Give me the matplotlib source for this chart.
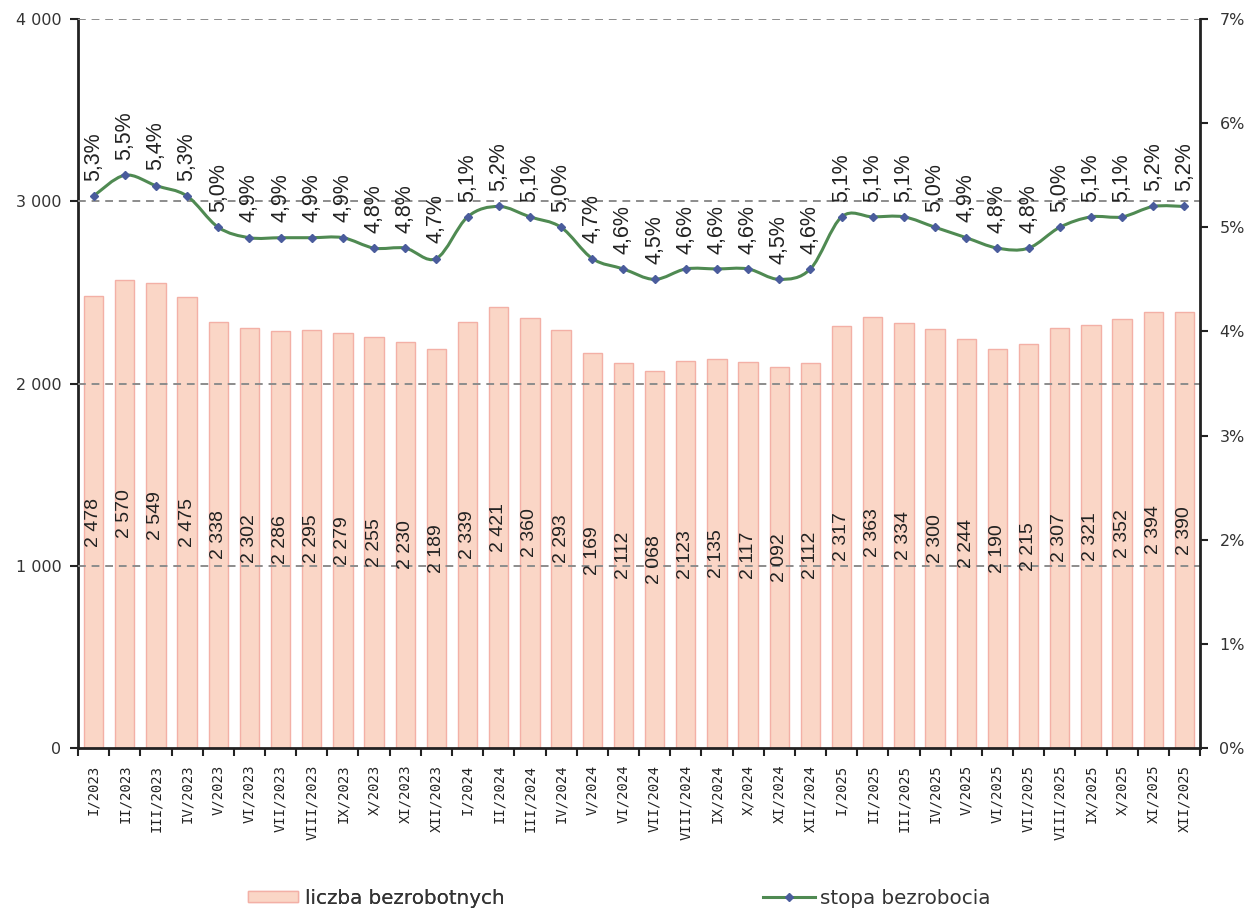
import numpy as np
import matplotlib
matplotlib.use("Agg")
import matplotlib.pyplot as plt
from matplotlib.path import Path
from matplotlib.patches import PathPatch, Patch
from matplotlib.lines import Line2D

months = ["I", "II", "III", "IV", "V", "VI", "VII", "VIII", "IX", "X", "XI", "XII"]
years = ["2023", "2024", "2025"]
categories = [f"{m}/{y}" for y in years for m in months]

unemployed = [2478, 2570, 2549, 2475, 2338, 2302, 2286, 2295, 2279, 2255, 2230, 2189,
              2339, 2421, 2360, 2293, 2169, 2112, 2068, 2123, 2135, 2117, 2092, 2112,
              2317, 2363, 2334, 2300, 2244, 2190, 2215, 2307, 2321, 2352, 2394, 2390]
rate = [5.3, 5.5, 5.4, 5.3, 5.0, 4.9, 4.9, 4.9, 4.9, 4.8, 4.8, 4.7,
        5.1, 5.2, 5.1, 5.0, 4.7, 4.6, 4.5, 4.6, 4.6, 4.6, 4.5, 4.6,
        5.1, 5.1, 5.1, 5.0, 4.9, 4.8, 4.8, 5.0, 5.1, 5.1, 5.2, 5.2]

left_ticks = [0, 1000, 2000, 3000, 4000]
left_labels = ["0", "1 000", "2 000", "3 000", "4 000"]
right_ticks = [0, 1, 2, 3, 4, 5, 6, 7]
right_labels = [f"{t}%" for t in right_ticks]

legend_bar = "liczba bezrobotnych"
legend_line = "stopa bezrobocia"

BAR_FACE = "#fad6c6"
BAR_EDGE = "#f3b0a6"
LINE_COL = "#4f8a52"
MARK_COL = "#4a5c9c"
GRID_COL = "#8c8c8c"

W, H = 1249, 909
fig = plt.figure(figsize=(W / 100, H / 100), dpi=100)
ax = fig.add_axes([78 / W, 1 - 748 / H, (1200 - 78) / W, (748 - 19) / H])
ax2 = ax.twinx()

x = np.arange(len(categories))
ax.bar(x, unemployed, width=0.62, color=BAR_FACE, edgecolor=BAR_EDGE, linewidth=1.0, zorder=2)
for xi, v in zip(x, unemployed):
    ax.text(xi, v / 2, f"{v // 1000} {v % 1000:03d}", rotation=90, ha="center", va="center",
            fontsize=14, family="Liberation Sans", color="#222222", zorder=4)

ax.set_xlim(-0.5, len(categories) - 0.5)
ax.set_ylim(0, 4000)
ax.set_yticks(left_ticks)
ax.set_yticklabels(left_labels, fontsize=11.5, color="#333333")
for t in left_ticks[1:]:
    ax.axhline(t, color=GRID_COL, linestyle=(0, (4, 3)), linewidth=1.4, zorder=3)

ax.set_xticks(x)
ax.set_xticklabels(categories, rotation=90, fontsize=10, family="DejaVu Sans Mono", color="#222222")
ax.tick_params(axis="x", which="major", length=0, pad=12)
ax.set_xticks(np.arange(-0.5, len(categories)), minor=True)
ax.tick_params(axis="x", which="minor", length=6, width=1.5, direction="out", color="#222222")
ax.tick_params(axis="y", length=6, width=1.5, direction="out", color="#222222", pad=6)

for s in ["top", "right"]:
    ax.spines[s].set_visible(False)
ax.spines["left"].set_linewidth(2)
ax.spines["bottom"].set_linewidth(2)
ax.spines["left"].set_color("#222222")
ax.spines["bottom"].set_color("#222222")

ax2.set_ylim(0, 7)
ax2.set_yticks(right_ticks)
ax2.set_yticklabels(right_labels, fontsize=11.5, color="#333333")
ax2.tick_params(axis="y", length=6, width=1.5, direction="out", color="#222222", pad=8)
for s in ["top", "left", "bottom"]:
    ax2.spines[s].set_visible(False)
ax2.spines["right"].set_linewidth(2)
ax2.spines["right"].set_color("#222222")

# smooth line via Catmull-Rom -> cubic Bezier path
xs = np.asarray(x, dtype=float)
ys = np.asarray(rate, dtype=float)
verts = [(xs[0], ys[0])]
codes = [Path.MOVETO]
n = len(xs)
for i in range(n - 1):
    p0 = np.array([xs[max(i - 1, 0)], ys[max(i - 1, 0)]])
    p1 = np.array([xs[i], ys[i]])
    p2 = np.array([xs[i + 1], ys[i + 1]])
    p3 = np.array([xs[min(i + 2, n - 1)], ys[min(i + 2, n - 1)]])
    c1 = p1 + (p2 - p0) / 6.0
    c2 = p2 - (p3 - p1) / 6.0
    verts += [tuple(c1), tuple(c2), tuple(p2)]
    codes += [Path.CURVE4] * 3
ax2.add_patch(PathPatch(Path(verts, codes), facecolor="none", edgecolor=LINE_COL, linewidth=2.2, zorder=5))
ax2.plot(xs, ys, linestyle="none", marker="D", markersize=4.5, color=MARK_COL, zorder=6)
for xi, r in zip(xs, ys):
    ax2.annotate(f"{r:.1f}%".replace(".", ","), (xi, r), xytext=(0, 11), textcoords="offset points",
                 rotation=90, ha="center", va="bottom", fontsize=15.5, family="Liberation Sans",
                 color="#222222", zorder=7)

# legends
h1 = Patch(facecolor=BAR_FACE, edgecolor=BAR_EDGE)
l1 = fig.legend([h1], [legend_bar], loc="center left", bbox_to_anchor=(248 / W, 1 - 898 / H),
                frameon=False, fontsize=14.3, handlelength=2.5, handleheight=0.5, handletextpad=0.35,
                borderpad=0, borderaxespad=0, labelcolor="#333333")
h2 = Line2D([0], [0], color=LINE_COL, linewidth=2.2, marker="D", markersize=4, markerfacecolor=MARK_COL,
            markeredgecolor=MARK_COL)
l2 = fig.legend([h2], [legend_line], loc="center left", bbox_to_anchor=(763 / W, 1 - 898 / H),
                frameon=False, fontsize=14.3, handlelength=2.6, handletextpad=0.25,
                borderpad=0, borderaxespad=0, labelcolor="#333333")
fig.add_artist(l1)

fig.savefig("out.png", dpi=100)
